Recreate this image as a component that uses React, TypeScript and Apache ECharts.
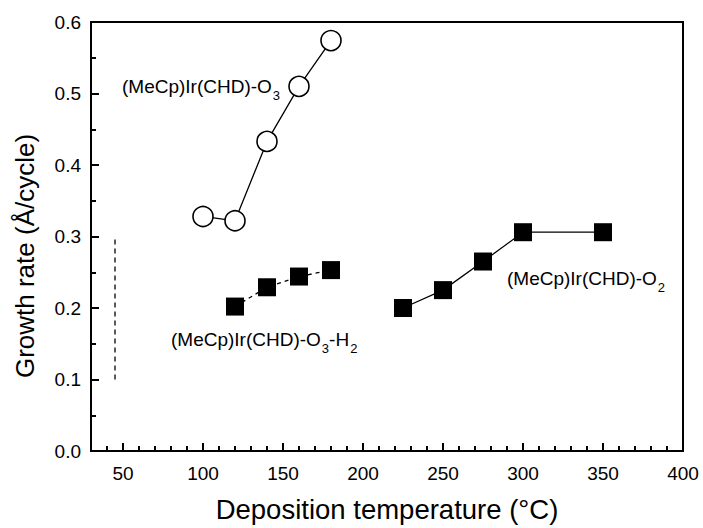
import React, { useEffect, useRef } from 'react';
import * as echarts from 'echarts';

// Data
const o3Temp = [100, 120, 140, 160, 180];
const o3Rate = [0.328, 0.322, 0.433, 0.51, 0.574];

const o3h2Temp = [120, 140, 160, 180];
const o3h2Rate = [0.202, 0.229, 0.244, 0.253];

const o2Temp = [225, 250, 275, 300, 350];
const o2Rate = [0.2, 0.225, 0.265, 0.306, 0.306];

const refTemp = [45, 45];
const refRate = [0.1, 0.3];

const xMajorTicks = [50, 100, 150, 200, 250, 300, 350, 400];
const xMinorTicks = [40, 60, 70, 80, 90, 110, 120, 130, 140, 160, 170, 180, 190, 210, 220, 230, 240, 260, 270, 280, 290, 310, 320, 330, 340, 360, 370, 380, 390];

const FONT = '"Liberation Sans", Arial, sans-serif';

const pairs = (xs: number[], ys: number[]) => xs.map((x, i) => [x, ys[i]]);

export default function App() {
  const ref = useRef<HTMLDivElement>(null);
  useEffect(() => {
    if (!ref.current) return;
    const chart = echarts.init(ref.current, null, { renderer: 'svg' });
    const labelRich = {
      a: { fontSize: 19, fontFamily: FONT, color: '#000' },
      s: { fontSize: 13, fontFamily: FONT, color: '#000', padding: [18, 0, 0, 1] },
    };
    const axisLine = { color: '#000', width: 2 };
    chart.setOption({
      animation: false,
      backgroundColor: '#fff',
      grid: {
        left: 91,
        top: 22,
        right: 20,
        bottom: 72,
        show: true,
        borderColor: '#000',
        borderWidth: 2,
        backgroundColor: 'transparent',
      },
      xAxis: [
        {
          type: 'value',
          min: 30,
          max: 400,
          position: 'bottom',
          name: 'Deposition temperature (°C)',
          nameLocation: 'middle',
          nameGap: 44,
          nameTextStyle: { fontSize: 27.5, fontFamily: FONT, color: '#000' },
          axisLine: { show: true, lineStyle: axisLine },
          axisTick: { show: true, inside: true, length: 8, customValues: xMajorTicks, lineStyle: axisLine },
          axisLabel: { show: true, customValues: xMajorTicks, margin: 13, fontSize: 19, fontFamily: FONT, color: '#000' },
          splitLine: { show: false },
        },
        {
          type: 'value',
          min: 30,
          max: 400,
          position: 'bottom',
          axisLine: { show: false },
          axisTick: { show: true, inside: true, length: 5, customValues: xMinorTicks, lineStyle: axisLine },
          axisLabel: { show: false },
          splitLine: { show: false },
        },
      ],
      yAxis: {
        type: 'value',
        min: 0,
        max: 0.6,
        interval: 0.1,
        axisLine: { show: true, lineStyle: axisLine },
        axisTick: { show: true, inside: true, length: 8, lineStyle: axisLine },
        minorTick: { show: true, splitNumber: 2, length: 5, lineStyle: axisLine },
        axisLabel: { margin: 10, fontSize: 19, fontFamily: FONT, color: '#000', formatter: (v: number) => v.toFixed(1) },
        splitLine: { show: false },
        minorSplitLine: { show: false },
      },
      series: [
        {
          type: 'line',
          xAxisIndex: 0,
          data: pairs(refTemp, refRate),
          symbol: 'none',
          lineStyle: { color: '#000', width: 1.3, type: [5, 4] },
        },
        {
          type: 'line',
          xAxisIndex: 0,
          data: pairs(o3Temp, o3Rate),
          symbol: 'circle',
          symbolSize: 20,
          itemStyle: { color: '#fff', borderColor: '#000', borderWidth: 1.6 },
          lineStyle: { color: '#000', width: 1.3 },
          z: 3,
        },
        {
          type: 'line',
          xAxisIndex: 0,
          data: pairs(o3h2Temp, o3h2Rate),
          symbol: 'rect',
          symbolSize: 18,
          itemStyle: { color: '#000' },
          lineStyle: { color: '#000', width: 1.3, type: [4, 4] },
          z: 3,
        },
        {
          type: 'line',
          xAxisIndex: 0,
          data: pairs(o2Temp, o2Rate),
          symbol: 'rect',
          symbolSize: 18,
          itemStyle: { color: '#000' },
          lineStyle: { color: '#000', width: 1.3 },
          z: 3,
        },
      ],
      graphic: [
        {
          type: 'text',
          x: 25,
          y: 256,
          rotation: Math.PI / 2,
          style: {
            text: 'Growth rate (Å/cycle)',
            fontSize: 26,
            fontFamily: FONT,
            fill: '#000',
            align: 'center',
            verticalAlign: 'middle',
          },
        },
        {
          type: 'text',
          left: 122,
          top: 77,
          style: { text: '{a|(MeCp)Ir(CHD)-O}{s|3}', rich: labelRich },
        },
        {
          type: 'text',
          left: 171,
          top: 330,
          style: { text: '{a|(MeCp)Ir(CHD)-O}{s|3}{a|-H}{s|2}', rich: labelRich },
        },
        {
          type: 'text',
          left: 507,
          top: 269,
          style: { text: '{a|(MeCp)Ir(CHD)-O}{s|2}', rich: labelRich },
        },
      ],
    });
    return () => chart.dispose();
  }, []);
  return (
    <div
      ref={ref}
      style={{ position: 'fixed', left: 0, top: 0, width: 703, height: 528, background: '#fff' }}
    />
  );
}
